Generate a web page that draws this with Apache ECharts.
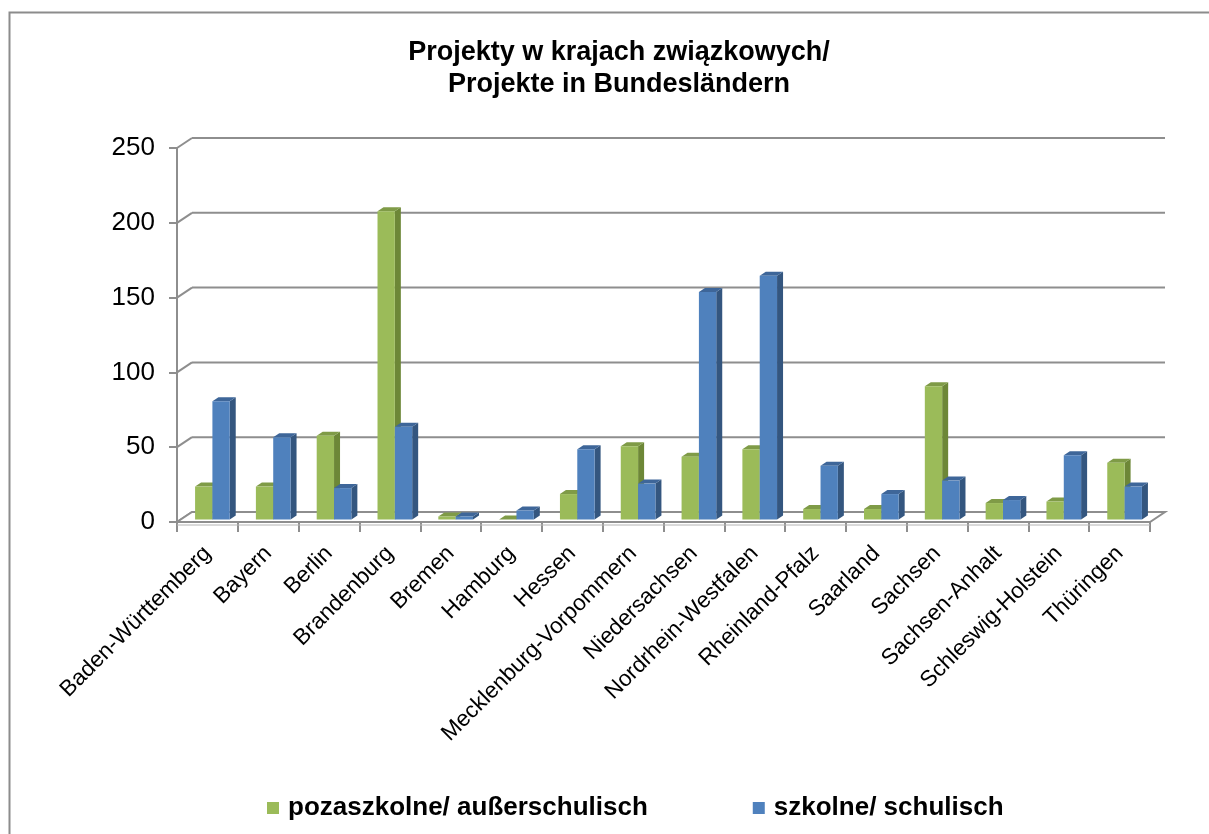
<!DOCTYPE html>
<html>
<head>
<meta charset="utf-8">
<script src="https://cdn.jsdelivr.net/npm/echarts@6/dist/echarts.min.js"></script>
<style>
  html, body { margin: 0; padding: 0; background: #fff; }
  #chart { width: 1209px; height: 834px; }
</style>
</head>
<body>
<div id="chart"></div>
<script>
var categories = ['Baden-Württemberg', 'Bayern', 'Berlin', 'Brandenburg', 'Bremen', 'Hamburg', 'Hessen',
  'Mecklenburg-Vorpommern', 'Niedersachsen', 'Nordrhein-Westfalen', 'Rheinland-Pfalz', 'Saarland',
  'Sachsen', 'Sachsen-Anhalt', 'Schleswig-Holstein', 'Thüringen'];
var pozaszkolne = [22, 22, 56, 206, 2, 0, 17, 49, 42, 47, 7, 7, 89, 11, 12, 38];
var szkolne = [79, 55, 21, 62, 2, 6, 47, 24, 152, 163, 36, 17, 26, 13, 43, 22];
var yTicks = [0, 50, 100, 150, 200, 250];

var FONT = '"Liberation Sans", Arial, sans-serif';
var DEPTH = [15, -10];      // depth of the 3d box
var BAR_SHIFT = [5, -2.5];  // bars sit a bit behind the front plane
var BAR_DEPTH = [6, -4];
var gridColor = '#8e8e8e';

// colors: front, side, top
var greenCols = ['#9bbb59', '#6d8737', '#7f9b47'];
var blueCols = ['#4f81bd', '#34567f', '#3e6699'];

function barRenderer(cols, from, to) {
  return function (params, api) {
    var i = api.value(0);
    var top = api.coord([i, api.value(1)]);
    var base = api.coord([i, 0]);
    var band = api.size([1, 0])[0];
    var x0 = top[0] + from * band + BAR_SHIFT[0];
    var x1 = top[0] + to * band + BAR_SHIFT[0];
    var yb = base[1] + BAR_SHIFT[1];
    var yt = top[1] + BAR_SHIFT[1];
    var dx = BAR_DEPTH[0], dy = BAR_DEPTH[1];
    return {
      type: 'group',
      children: [{
        type: 'polygon',
        shape: { points: [[x1, yb], [x1 + dx, yb + dy], [x1 + dx, yt + dy], [x1, yt]] },
        style: { fill: cols[1] }
      }, {
        type: 'polygon',
        shape: { points: [[x0, yt], [x1, yt], [x1 + dx, yt + dy], [x0 + dx, yt + dy]] },
        style: { fill: cols[2] }
      }, {
        type: 'rect',
        shape: { x: x0, y: yt, width: x1 - x0, height: yb - yt },
        style: { fill: cols[0] }
      }]
    };
  };
}

function wallRenderer(params, api) {
  var cs = params.coordSys;
  var x0 = cs.x, x1 = cs.x + cs.width;
  var y = api.coord([0, api.value(0)])[1];
  var dx = DEPTH[0], dy = DEPTH[1];
  var line = { stroke: gridColor, lineWidth: 2 };
  var children = [{
    type: 'line',
    shape: { x1: x0, y1: y, x2: x0 + dx, y2: y + dy },
    style: line
  }];
  if (api.value(0) === 0) {
    children.push({
      type: 'polygon',
      shape: { points: [[x0, y], [x1, y], [x1 + dx, y + dy], [x0 + dx, y + dy]] },
      style: { fill: '#fff', stroke: gridColor, lineWidth: 2 }
    });
    children.push({
      type: 'line',
      shape: { x1: x0, y1: y + 3, x2: x1, y2: y + 3 },
      style: { stroke: '#b4b4b4', lineWidth: 1 }
    });
  } else {
    children.push({
      type: 'line',
      shape: { x1: x0 + dx, y1: y + dy, x2: x1 + dx, y2: y + dy },
      style: line
    });
  }
  return { type: 'group', children: children };
}

var chart = echarts.init(document.getElementById('chart'));
chart.setOption({
  backgroundColor: '#fff',
  animation: false,
  title: {
    text: 'Projekty w krajach związkowych/\nProjekte in Bundesländern',
    left: 614,
    textAlign: 'center',
    top: 32,
    textStyle: { fontFamily: FONT, fontSize: 27, fontWeight: 'bold', color: '#000', lineHeight: 32 }
  },
  legend: {
    left: 262,
    top: 790,
    itemWidth: 12,
    itemHeight: 12,
    itemGap: 105,
    icon: 'rect',
    data: ['pozaszkolne/ außerschulisch', 'szkolne/ schulisch'],
    textStyle: { fontFamily: FONT, fontSize: 26, fontWeight: 'bold', color: '#000', padding: [0, 0, 0, 4] }
  },
  graphic: [{
    type: 'rect',
    shape: { x: 9.5, y: 12.5, width: 1300, height: 900 },
    style: { fill: 'none', stroke: '#8c8c8c', lineWidth: 2 },
    z: 100
  }],
  grid: { left: 177, right: 59, top: 148, bottom: 312 },
  xAxis: {
    type: 'category',
    data: categories,
    boundaryGap: true,
    axisLine: { show: false },
    axisTick: { show: true, length: 10, lineStyle: { color: gridColor, width: 2 } },
    axisLabel: {
      rotate: 45,
      interval: 0,
      margin: 28,
      fontFamily: FONT,
      fontSize: 22.5,
      color: '#000'
    }
  },
  yAxis: {
    type: 'value',
    min: 0,
    max: 250,
    interval: 50,
    axisLine: { show: true, lineStyle: { color: gridColor, width: 2 } },
    axisTick: { show: true, length: 8, lineStyle: { color: gridColor, width: 2 } },
    splitLine: { show: false },
    axisLabel: { margin: 22, fontFamily: FONT, fontSize: 26, color: '#000', padding: [4, 0, 0, 0] }
  },
  series: [{
    name: 'walls',
    type: 'custom',
    renderItem: wallRenderer,
    data: yTicks.map(function (t) { return [t]; }),
    encode: { y: 0 },
    silent: true,
    z: 1
  }, {
    name: 'pozaszkolne/ außerschulisch',
    type: 'custom',
    renderItem: barRenderer(greenCols, -0.285, 0.0),
    itemStyle: { color: greenCols[0] },
    data: pozaszkolne.map(function (v, i) { return [i, v]; }),
    encode: { x: 0, y: 1 },
    z: 3
  }, {
    name: 'szkolne/ schulisch',
    type: 'custom',
    renderItem: barRenderer(blueCols, 0.0, 0.285),
    itemStyle: { color: blueCols[0] },
    data: szkolne.map(function (v, i) { return [i, v]; }),
    encode: { x: 0, y: 1 },
    z: 4
  }]
});
</script>
</body>
</html>
